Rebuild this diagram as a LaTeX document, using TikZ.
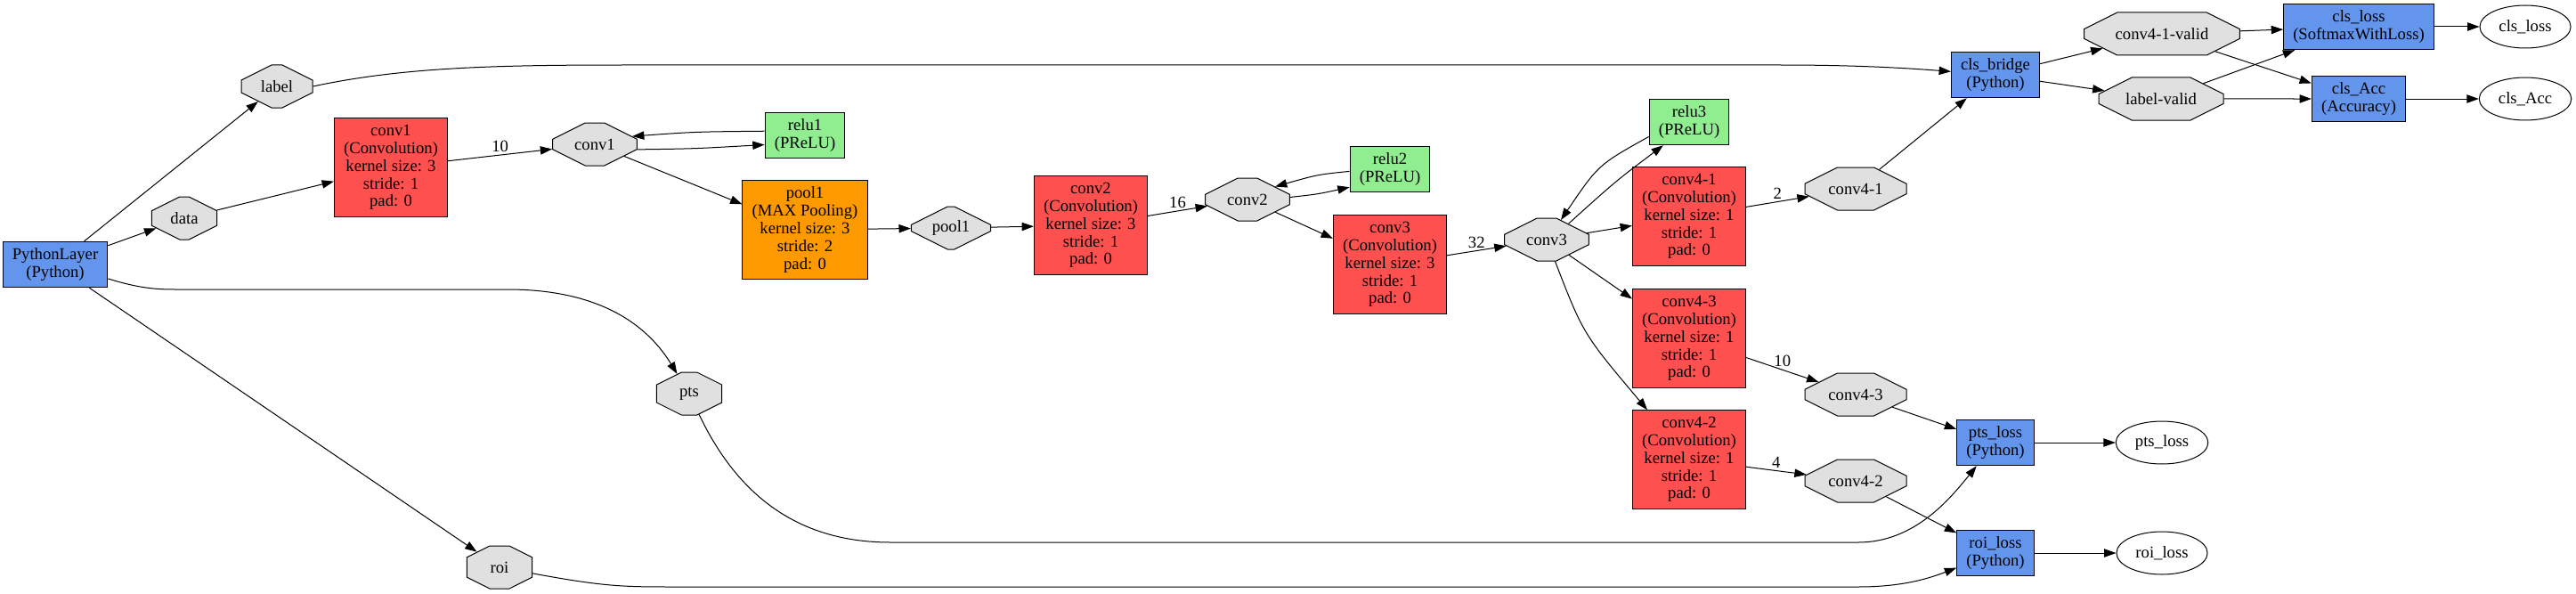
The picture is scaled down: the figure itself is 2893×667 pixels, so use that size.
\documentclass[tikz,border=0pt]{standalone}
\usepackage{fontspec}
\setmainfont{Liberation Serif}
\usetikzlibrary{shapes.misc, shapes.geometric, arrows.meta}

\definecolor{convred}{HTML}{FF5050}
\definecolor{poolorange}{HTML}{FF9900}
\definecolor{relugreen}{HTML}{90EE90}
\definecolor{pyblue}{HTML}{6495ED}
\definecolor{blobgray}{HTML}{E0E0E0}

\begin{document}
\begin{tikzpicture}[x=0.75pt, y=-0.75pt,
		font=\fontsize{14pt}{14.9pt}\selectfont,
		layer/.style={draw, line width=0.75pt, rectangle, align=center, inner xsep=8pt, inner ysep=5.5pt},
		conv/.style={layer, fill=convred},
		pool/.style={layer, fill=poolorange},
		relu/.style={layer, fill=relugreen},
		pylayer/.style={layer, fill=pyblue},
		blob/.style={draw, line width=0.75pt, chamfered rectangle, chamfered rectangle angle=63.43, chamfered rectangle xsep=30pt, chamfered rectangle ysep=9pt, fill=blobgray, minimum height=36pt, minimum width=#1, inner xsep=2pt, inner ysep=0pt},
		blob/.default=71pt,
		outp/.style={draw, ellipse, line width=0.75pt, minimum height=36pt, inner xsep=4.9pt},
		edge/.style={line width=0.75pt, -{Triangle[length=10pt, width=7pt]}},
		num/.style={midway, above, inner sep=2pt}]
			\useasboundingbox (0,0) rectangle (2893,667);
			
			\node[pylayer] (py) at (62,297) {PythonLayer\\(Python)};
			\node[blob=60pt] (label) at (311,97) {label};
			\node[blob=55pt] (data) at (207,245) {data};
			\node[blob=55pt] (pts) at (774,442) {pts};
			\node[blob=55pt] (roi) at (561,637) {roi};
			\node[conv] (conv1) at (439,188) {conv1\\(Convolution)\\kernel size: 3\\stride: 1\\pad: 0};
			\node[blob] (conv1b) at (668,162) {conv1};
			\node[relu] (relu1) at (904,152) {relu1\\(PReLU)};
			\node[pool] (pool1) at (904,258) {pool1\\(MAX Pooling)\\kernel size: 3\\stride: 2\\pad: 0};
			\node[blob=67pt] (pool1b) at (1068,256) {pool1};
			\node[conv] (conv2) at (1225,253) {conv2\\(Convolution)\\kernel size: 3\\stride: 1\\pad: 0};
			\node[blob] (conv2b) at (1401,224) {conv2};
			\node[relu] (relu2) at (1561,190) {relu2\\(PReLU)};
			\node[conv] (conv3) at (1561,297) {conv3\\(Convolution)\\kernel size: 3\\stride: 1\\pad: 0};
			\node[blob] (conv3b) at (1737,269) {conv3};
			\node[relu] (relu3) at (1897,137) {relu3\\(PReLU)};
			\node[conv] (conv41) at (1897,243) {conv4-1\\(Convolution)\\kernel size: 1\\stride: 1\\pad: 0};
			\node[conv] (conv43) at (1897,380) {conv4-3\\(Convolution)\\kernel size: 1\\stride: 1\\pad: 0};
			\node[conv] (conv42) at (1897,516) {conv4-2\\(Convolution)\\kernel size: 1\\stride: 1\\pad: 0};
			\node[blob=85.5pt] (conv41b) at (2084,212) {conv4-1};
			\node[blob=85.5pt] (conv43b) at (2084,443) {conv4-3};
			\node[blob=85.5pt] (conv42b) at (2084,540) {conv4-2};
			\node[pylayer] (clsbr) at (2241,84) {cls\_bridge\\(Python)};
			\node[pylayer] (ptsl) at (2241,497) {pts\_loss\\(Python)};
			\node[pylayer] (roil) at (2241,621) {roi\_loss\\(Python)};
			\node[blob=131pt] (c41v) at (2428,38) {conv4-1-valid};
			\node[blob=105pt] (lblv) at (2427,111) {label-valid};
			\node[pylayer] (clsl) at (2649,30) {cls\_loss\\(SoftmaxWithLoss)};
			\node[pylayer] (clsa) at (2649,111) {cls\_Acc\\(Accuracy)};
			\node[outp] (clslo) at (2836,30) {cls\_loss};
			\node[outp] (clsao) at (2836,111) {cls\_Acc};
			\node[outp] (ptslo) at (2428,497) {pts\_loss};
			\node[outp] (roilo) at (2428,621) {roi\_loss};
			
			\draw[edge] (py) -- (label);
			\draw[edge] (py) -- (data);
			\draw[edge] (py) -- (roi);
			\draw[edge] (py.-15) .. controls (160,325) and (180,325) .. (200,325) -- (570,325) .. controls (680,325) and (730,370) .. (pts);
			\draw[edge] (data) -- (conv1);
			\draw[edge] (label.east) .. controls (450,76) and (550,73) .. (700,73) -- (2000,73) .. controls (2100,73) and (2160,78) .. (clsbr);
			\draw[edge] (conv1) -- node[num] {10} (conv1b);
			\draw[edge] (conv1b.-7) .. controls (780,167) .. (relu1.-167);
			\draw[edge] (relu1.174) .. controls (780,148) .. (conv1b.12);
			\draw[edge] (conv1b) -- (pool1);
			\draw[edge] (pool1) -- (pool1b);
			\draw[edge] (pool1b) -- (conv2);
			\draw[edge] (conv2) -- node[num] {16} (conv2b);
			\draw[edge] (conv2b.3) .. controls (1480,218) .. (relu2.-156);
			\draw[edge] (relu2.-177) .. controls (1480,196) .. (conv2b.25);
			\draw[edge] (conv2b) -- (conv3);
			\draw[edge] (conv3) -- node[num] {32} (conv3b);
			\draw[edge] (conv3b.36) .. controls (1815,203) .. (relu3.-138);
			\draw[edge] (relu3.-160) .. controls (1795,185) .. (conv3b.54);
			\draw[edge] (conv3b) -- (conv41);
			\draw[edge] (conv3b) -- (conv43);
			\draw[edge] (conv3b) .. controls (1778,375) .. (conv42);
			\draw[edge] (conv41) -- node[num] {2} (conv41b);
			\draw[edge] (conv43) -- node[num] {10} (conv43b);
			\draw[edge] (conv42) -- node[num] {4} (conv42b);
			\draw[edge] (conv41b) -- (clsbr);
			\draw[edge] (conv43b) -- (ptsl);
			\draw[edge] (conv42b) -- (roil);
			\draw[edge] (pts) .. controls (830,560) and (900,609) .. (1000,609) -- (2087,609) .. controls (2150,609) and (2190,560) .. (ptsl);
			\draw[edge] (roi) .. controls (680,659) and (700,659) .. (760,659) -- (2087,659) .. controls (2140,659) and (2170,648) .. (roil);
			\draw[edge] (clsbr) -- (c41v);
			\draw[edge] (clsbr) -- (lblv);
			\draw[edge] (c41v) -- (clsl);
			\draw[edge] (c41v) -- (clsa);
			\draw[edge] (lblv) -- (clsl);
			\draw[edge] (lblv) -- (clsa);
			\draw[edge] (clsl) -- (clslo);
			\draw[edge] (clsa) -- (clsao);
			\draw[edge] (ptsl) -- (ptslo);
			\draw[edge] (roil) -- (roilo);
\end{tikzpicture}
\end{document}
